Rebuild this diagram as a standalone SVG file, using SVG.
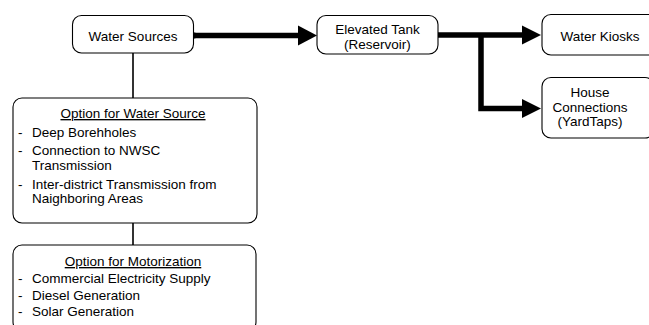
<svg xmlns="http://www.w3.org/2000/svg" width="649" height="325" viewBox="0 0 649 325">
<defs>
<style>
.box{fill:#fff;stroke:#000;stroke-width:1.1}
.t{font-family:"Liberation Sans",Arial,sans-serif;font-size:13.5px;fill:#000}
.c{text-anchor:middle}
.u{text-decoration:underline}
.thick{fill:none;stroke:#000;stroke-width:5.5}
.thin{fill:none;stroke:#333;stroke-width:2}
</style>
</defs>
<rect width="649" height="325" fill="#fff"/>
<g id="connectors">
<line class="thin" x1="133" y1="53" x2="133" y2="98"/>
<line class="thin" x1="133" y1="223" x2="133" y2="245"/>
<circle cx="194" cy="35.5" r="3" fill="#000"/>
<path class="thick" d="M194,35.5 H300"/>
<polygon points="298,25.5 317,35.5 298,45.5" fill="#000"/>
<path class="thick" d="M438,35 H524"/>
<polygon points="522,25.5 541,35 522,44.5" fill="#000"/>
<path class="thick" d="M481,35 V108.5 H524" stroke-linejoin="miter"/>
<polygon points="522,99 541,108.5 522,118" fill="#000"/>
</g>
<g id="water-sources">
<rect class="box" x="72.5" y="15.5" width="121" height="37.5" rx="9"/>
<text class="t c" x="133" y="41">Water Sources</text>
</g>
<g id="elevated-tank">
<rect class="box" x="317" y="15.5" width="121" height="38.5" rx="9"/>
<text class="t c" x="377.5" y="34">Elevated Tank</text>
<text class="t c" x="377.5" y="48.5">(Reservoir)</text>
</g>
<g id="water-kiosks">
<rect class="box" x="542" y="14.5" width="120" height="40.5" rx="9"/>
<text class="t c" x="600" y="40.5">Water Kiosks</text>
</g>
<g id="house-connections">
<rect class="box" x="542" y="77.5" width="112" height="60.5" rx="9"/>
<text class="t c" x="590" y="96.5">House</text>
<text class="t c" x="590" y="111.5">Connections</text>
<text class="t c" x="590" y="126">(YardTaps)</text>
</g>
<g id="option-water-source">
<rect class="box" x="13" y="98" width="244" height="125" rx="9"/>
<text class="t c u" x="133" y="118">Option for Water Source</text>
<text class="t" x="18" y="137">-</text><text class="t" x="32" y="137">Deep Borehholes</text>
<text class="t" x="18" y="155">-</text><text class="t" x="32" y="155">Connection to NWSC</text>
<text class="t" x="32" y="170">Transmission</text>
<text class="t" x="18" y="188.5">-</text><text class="t" x="32" y="188.5">Inter-district Transmission from</text>
<text class="t" x="32" y="203">Naighboring Areas</text>
</g>
<g id="option-motorization">
<rect class="box" x="13" y="245" width="243" height="86" rx="9"/>
<text class="t c u" x="133" y="266">Option for Motorization</text>
<text class="t" x="18" y="283">-</text><text class="t" x="32" y="283">Commercial Electricity Supply</text>
<text class="t" x="18" y="300">-</text><text class="t" x="32" y="300">Diesel Generation</text>
<text class="t" x="18" y="316">-</text><text class="t" x="32" y="316">Solar Generation</text>
</g>
</svg>
